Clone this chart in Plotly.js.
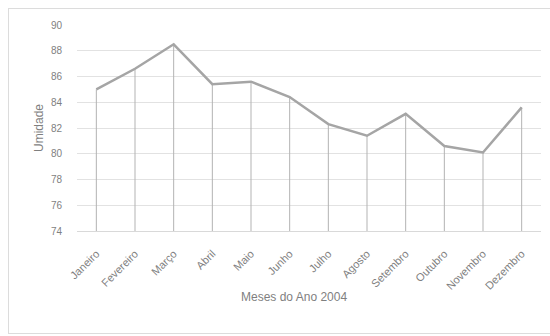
<!DOCTYPE html>
<html>
<head>
<meta charset="utf-8">
<script src="https://cdn.plot.ly/plotly-3.0.1.min.js"></script>
<style>
  html, body { margin: 0; padding: 0; background: #ffffff; }
  #wrap { position: relative; width: 550px; height: 336px; overflow: hidden; }
  #chart { position: absolute; left: 0; top: 0; width: 550px; height: 336px; }
  #frame { position: absolute; left: 8px; top: 8px; width: 580px; height: 324px;
           border: 1px solid #dcdcdc; pointer-events: none; }
</style>
</head>
<body>
<div id="wrap">
  <div id="chart"></div>
  <div id="frame"></div>
</div>
<script>
const months = ["Janeiro", "Fevereiro", "Março", "Abril", "Maio", "Junho",
                "Julho", "Agosto", "Setembro", "Outubro", "Novembro", "Dezembro"];
const umidade = [85.0, 86.6, 88.5, 85.4, 85.6, 84.4, 82.3, 81.4, 83.1, 80.6, 80.1, 83.6];
const yTicks = [74, 76, 78, 80, 82, 84, 86, 88, 90];
const yMin = 74, yMax = 90;

const dropDown = umidade.map(v => v - yMin);
const zeros = umidade.map(() => 0);

const trace = {
  type: 'scatter',
  mode: 'lines',
  x: months,
  y: umidade,
  line: { color: '#a5a5a5', width: 2.5 },
  error_y: {
    type: 'data', symmetric: false,
    array: zeros, arrayminus: dropDown,
    color: '#b3b3b3', thickness: 1, width: 0
  },
  hoverinfo: 'x+y'
};

const layout = {
  width: 550, height: 336,
  margin: { l: 77, r: 9, t: 25, b: 105 },
  paper_bgcolor: '#ffffff',
  plot_bgcolor: '#ffffff',
  showlegend: false,
  font: { family: 'Liberation Sans, Arial, sans-serif', color: '#7f7f7f', size: 10 },
  xaxis: {
    type: 'category',
    automargin: false,
    range: [-0.5, months.length - 0.5],
    tickangle: -45,
    showgrid: false,
    showline: true, linecolor: '#d9d9d9', linewidth: 1,
    ticks: 'outside', ticklen: 11, tickcolor: 'rgba(0,0,0,0)',
    tickfont: { size: 11, color: '#7f7f7f' },
    fixedrange: true
  },
  yaxis: {
    automargin: false,
    range: [yMin, yMax],
    tickvals: yTicks,
    ticktext: yTicks.map(String),
    showgrid: true, gridcolor: '#e2e2e2', gridwidth: 1,
    zeroline: false, showline: false,
    ticks: 'outside', ticklen: 12, tickcolor: 'rgba(0,0,0,0)',
    tickfont: { size: 10, color: '#7f7f7f' },
    title: { text: 'Umidade', font: { size: 12, color: '#7f7f7f' }, standoff: 4 },
    fixedrange: true
  },
  annotations: [{
    text: 'Meses do Ano 2004',
    xref: 'paper', yref: 'paper',
    x: (294 - 77) / 464, y: -(297 - 231) / 206,
    xanchor: 'center', yanchor: 'middle',
    showarrow: false,
    font: { size: 12, color: '#7f7f7f' }
  }]
};

Plotly.newPlot('chart', [trace], layout, { displayModeBar: false, staticPlot: true });
</script>
</body>
</html>
